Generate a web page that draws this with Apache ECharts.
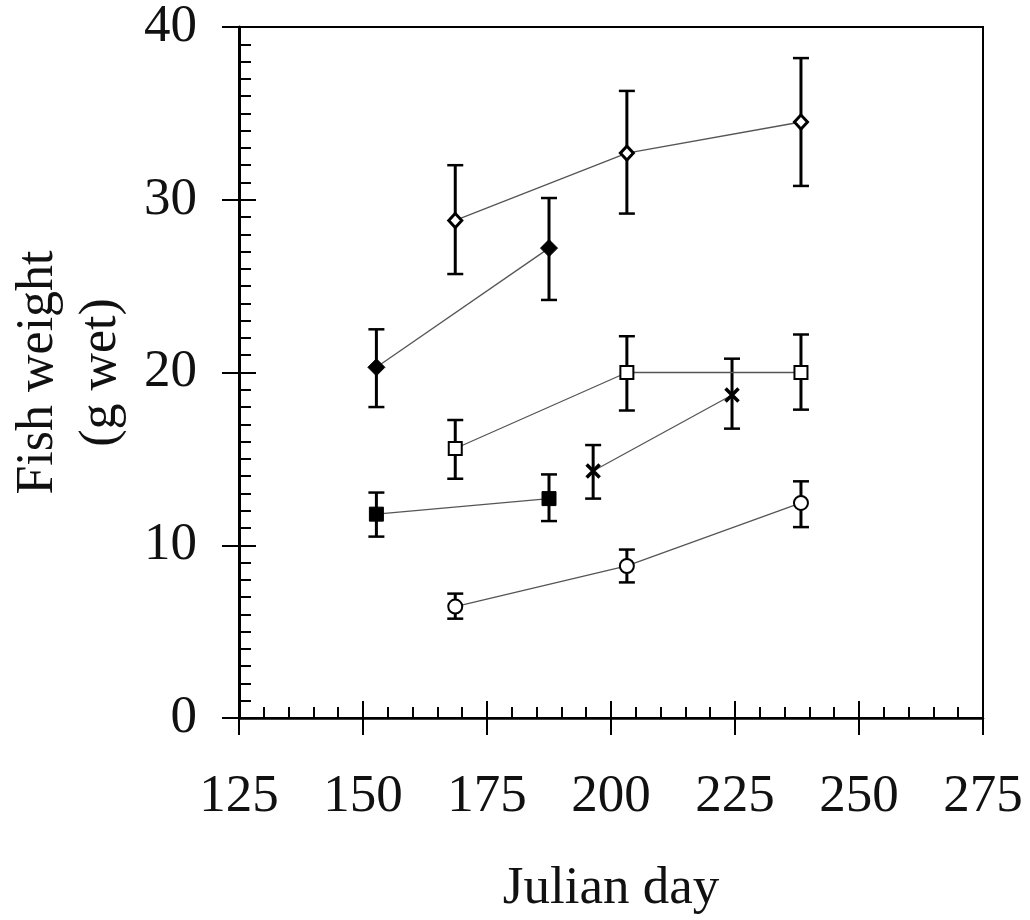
<!DOCTYPE html>
<html>
<head>
<meta charset="utf-8">
<script src="https://cdn.jsdelivr.net/npm/echarts@6/dist/echarts.min.js"></script>
<style>
  html, body { margin: 0; padding: 0; background: #fff; }
  #chart { width: 1030px; height: 920px; }
</style>
</head>
<body>
<div id="chart"></div>
<script>
// ---- Data ----
const xTicks = [125, 150, 175, 200, 225, 250, 275];
const yTicks = [0, 10, 20, 30, 40];

// open diamonds
const odX  = [168.6, 203.2, 238.3];
const odY  = [28.8, 32.7, 34.5];
const odLo = [25.7, 29.2, 30.8];
const odHi = [32.0, 36.3, 38.2];

// filled diamonds
const fdX  = [152.7, 187.5];
const fdY  = [20.3, 27.2];
const fdLo = [18.0, 24.2];
const fdHi = [22.5, 30.1];

// open squares
const osX  = [168.6, 203.2, 238.3];
const osY  = [15.6, 20.0, 20.0];
const osLo = [13.85, 17.8, 17.85];
const osHi = [17.25, 22.1, 22.2];

// crosses
const crX  = [196.4, 224.4];
const crY  = [14.3, 18.7];
const crLo = [12.7, 16.75];
const crHi = [15.8, 20.8];

// filled squares
const fsX  = [152.7, 187.5];
const fsY  = [11.8, 12.7];
const fsLo = [10.5, 11.4];
const fsHi = [13.05, 14.1];

// open circles
const ocX  = [168.6, 203.2, 238.3];
const ocY  = [6.45, 8.8, 12.45];
const ocLo = [5.75, 7.85, 11.05];
const ocHi = [7.2, 9.75, 13.7];

// ---- Build chart ----
const serif = '"Liberation Serif", "Times New Roman", serif';
const pts = (xs, ys) => xs.map((x, i) => [x, ys[i]]);
const bars = (xs, lo, hi) => xs.map((x, i) => [x, lo[i], hi[i]]);

const allBars = []
  .concat(bars(odX, odLo, odHi))
  .concat(bars(fdX, fdLo, fdHi))
  .concat(bars(osX, osLo, osHi))
  .concat(bars(crX, crLo, crHi))
  .concat(bars(fsX, fsLo, fsHi))
  .concat(bars(ocX, ocLo, ocHi));

function lineSeries(data, symbol, size, fill, bw) {
  return {
    type: 'line',
    data: data,
    symbol: symbol,
    symbolSize: size,
    showAllSymbol: true,
    itemStyle: { color: fill, borderColor: '#000', borderWidth: bw },
    lineStyle: { color: '#555', width: 1.3 },
    z: 5,
    silent: true,
    animation: false
  };
}

const chart = echarts.init(document.getElementById('chart'), null, { renderer: 'canvas' });

const option = {
  backgroundColor: '#fff',
  animation: false,
  grid: {
    left: 239, right: 47, top: 27, bottom: 202,
    show: true, borderColor: '#000', borderWidth: 2,
    backgroundColor: 'transparent',
    containLabel: false,
    outerBoundsMode: 'none'
  },
  xAxis: [
    {
      type: 'value', min: xTicks[0], max: xTicks[xTicks.length - 1], interval: 25,
      name: 'Julian day', nameLocation: 'middle', nameGap: 145,
      nameTextStyle: { fontFamily: serif, fontSize: 53, color: '#111' },
      axisLine: { show: true, onZero: false, lineStyle: { color: '#000', width: 2.5 } },
      axisTick: { show: true, inside: true, length: 17, lineStyle: { color: '#000', width: 2 } },
      minorTick: { show: true, splitNumber: 5, length: 11, lineStyle: { color: '#000', width: 2 } },
      axisLabel: { fontFamily: serif, fontSize: 53, color: '#111', margin: 53 },
      splitLine: { show: false }
    },
    {
      type: 'value', min: xTicks[0], max: xTicks[xTicks.length - 1], interval: 25,
      position: 'bottom', gridIndex: 0,
      axisLine: { show: false },
      axisTick: { show: true, inside: false, length: 17, lineStyle: { color: '#000', width: 2 } },
      axisLabel: { show: false },
      splitLine: { show: false }
    }
  ],
  yAxis: [
    {
      type: 'value', min: yTicks[0], max: yTicks[yTicks.length - 1], interval: 10,
      name: 'Fish weight\n(g wet)', nameLocation: 'middle', nameGap: 101, nameRotate: 90,
      nameTextStyle: { fontFamily: serif, fontSize: 52, lineHeight: 63, color: '#111', align: 'center' },
      axisLine: { show: true, onZero: false, lineStyle: { color: '#000', width: 3 } },
      axisTick: { show: true, inside: true, length: 17, lineStyle: { color: '#000', width: 2 } },
      minorTick: { show: true, splitNumber: 10, length: 12, lineStyle: { color: '#000', width: 2 } },
      axisLabel: { fontFamily: serif, fontSize: 53, color: '#111', margin: 42 },
      splitLine: { show: false }
    },
    {
      type: 'value', min: yTicks[0], max: yTicks[yTicks.length - 1], interval: 10,
      position: 'left', gridIndex: 0,
      axisLine: { show: false },
      axisTick: { show: true, inside: false, length: 17, lineStyle: { color: '#000', width: 2 } },
      axisLabel: { show: false },
      splitLine: { show: false }
    }
  ],
  series: [
    {
      type: 'custom',
      data: allBars,
      encode: { x: 0, y: [1, 2] },
      z: 3,
      silent: true,
      renderItem: function (params, api) {
        const x = api.value(0);
        const lo = api.coord([x, api.value(1)]);
        const hi = api.coord([x, api.value(2)]);
        const hw = 8;
        const st = { stroke: '#000', lineWidth: 3 };
        return {
          type: 'group',
          children: [
            { type: 'line', shape: { x1: lo[0], y1: lo[1], x2: hi[0], y2: hi[1] }, style: st },
            { type: 'line', shape: { x1: lo[0] - hw, y1: lo[1], x2: lo[0] + hw, y2: lo[1] }, style: { stroke: '#000', lineWidth: 2.5 } },
            { type: 'line', shape: { x1: hi[0] - hw, y1: hi[1], x2: hi[0] + hw, y2: hi[1] }, style: { stroke: '#000', lineWidth: 2.5 } }
          ]
        };
      }
    },
    lineSeries(pts(odX, odY), 'diamond', [13, 14], '#fff', 3),
    lineSeries(pts(fdX, fdY), 'diamond', [17, 17], '#000', 1),
    lineSeries(pts(osX, osY), 'rect', 13, '#fff', 2),
    lineSeries(pts(crX, crY), 'path://M0,0L10,10M10,0L0,10', 13, 'none', 3.5),
    lineSeries(pts(fsX, fsY), 'rect', 14, '#000', 1),
    lineSeries(pts(ocX, ocY), 'circle', 14, '#fff', 2)
  ]
};

chart.setOption(option);
</script>
</body>
</html>
